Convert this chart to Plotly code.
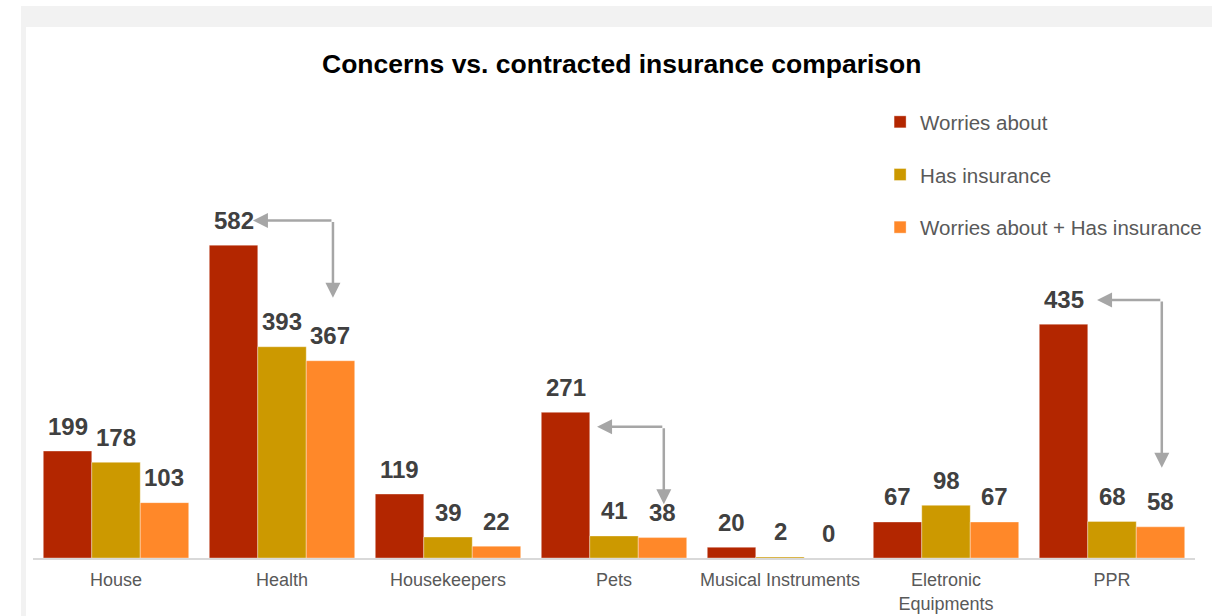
import plotly.graph_objects as go

categories = ["House", "Health", "Housekeepers", "Pets", "Musical Instruments",
              "Eletronic<br>Equipments", "PPR"]
worries = [199, 582, 119, 271, 20, 67, 435]
has_insurance = [178, 393, 39, 41, 2, 98, 68]
worries_and_has = [103, 367, 22, 38, 0, 67, 58]

series_names = ["Worries about", "Has insurance", "Worries about + Has insurance"]
series_values = [worries, has_insurance, worries_and_has]
series_colors = ["#b32600", "#cc9900", "#ff8829"]

# comparison arrows: (corner x, corner y, left tip x, down tip y) in data coords
arrows = [
    (1.307, 628, 0.825, 484),
    (3.300, 244, 2.898, 100),
    (6.300, 480, 5.910, 168),
]

FONT = "Liberation Sans, Arial, sans-serif"
BARGAP = 0.124

fig = go.Figure()
for name, vals, col in zip(series_names, series_values, series_colors):
    fig.add_trace(go.Bar(
        x=categories, y=vals, name=name, legendgroup=name,
        marker=dict(color=col, line=dict(color="rgba(255,255,255,0.35)", width=1)),
        hoverinfo="x+y+name",
    ))

annotations = []
w = (1 - BARGAP) / len(series_values)
for j, vals in enumerate(series_values):
    for i, v in enumerate(vals):
        annotations.append(dict(
            x=i + (j - 1) * w, y=v, xref="x", yref="y", text=str(v),
            showarrow=False, yshift=25,
            font=dict(family=FONT, size=24, color="#404040", weight="bold"),
        ))

for cx, cy, lx, dy in arrows:
    annotations.append(dict(x=lx, y=cy, ax=cx, ay=cy, xref="x", yref="y",
                            axref="x", ayref="y", text="", showarrow=True,
                            arrowhead=2, arrowsize=1.2, arrowwidth=2.5,
                            arrowcolor="#a6a6a6", standoff=0))
    annotations.append(dict(x=cx, y=dy, ax=cx, ay=cy, xref="x", yref="y",
                            axref="x", ayref="y", text="", showarrow=True,
                            arrowhead=2, arrowsize=1.2, arrowwidth=2.5,
                            arrowcolor="#a6a6a6", standoff=0))

shapes = [
    dict(type="rect", xref="paper", yref="paper", x0=-0.01033, x1=1.05,
         y0=-0.2, y1=1.28372, fillcolor="#f2f2f2", line=dict(width=0), layer="below"),
    dict(type="rect", xref="paper", yref="paper", x0=-0.006024, x1=1.05,
         y0=-0.2, y1=1.23488, fillcolor="#ffffff", line=dict(width=0), layer="below"),
]

fig.update_layout(
    width=1212, height=616,
    margin=dict(l=33, r=17, t=128, b=58, pad=0, autoexpand=False),
    paper_bgcolor="#ffffff", plot_bgcolor="rgba(0,0,0,0)",
    barmode="group", bargap=BARGAP, bargroupgap=0,
    title=dict(text="<b>Concerns vs. contracted insurance comparison</b>",
               x=0.513, xref="container", y=1 - 64 / 616, yref="container",
               xanchor="center", yanchor="middle",
               font=dict(family=FONT, size=26.5, color="#000000")),
    font=dict(family=FONT),
    legend=dict(x=0.7290, y=1.0604, xanchor="left", yanchor="top",
                orientation="v", traceorder="grouped", tracegroupgap=23,
                font=dict(family=FONT, size=20.5, color="#595959"),
                bgcolor="rgba(0,0,0,0)"),
    xaxis=dict(showline=True, linecolor="#d9d9d9", linewidth=1.5, ticks="",
               showgrid=False, zeroline=False, ticklabelstandoff=5,
               tickfont=dict(family=FONT, size=18, color="#595959")),
    yaxis=dict(range=[0, 800], visible=False, showgrid=False, zeroline=False),
    annotations=annotations,
    shapes=shapes,
    showlegend=True,
)

fig.write_html("out.html")
